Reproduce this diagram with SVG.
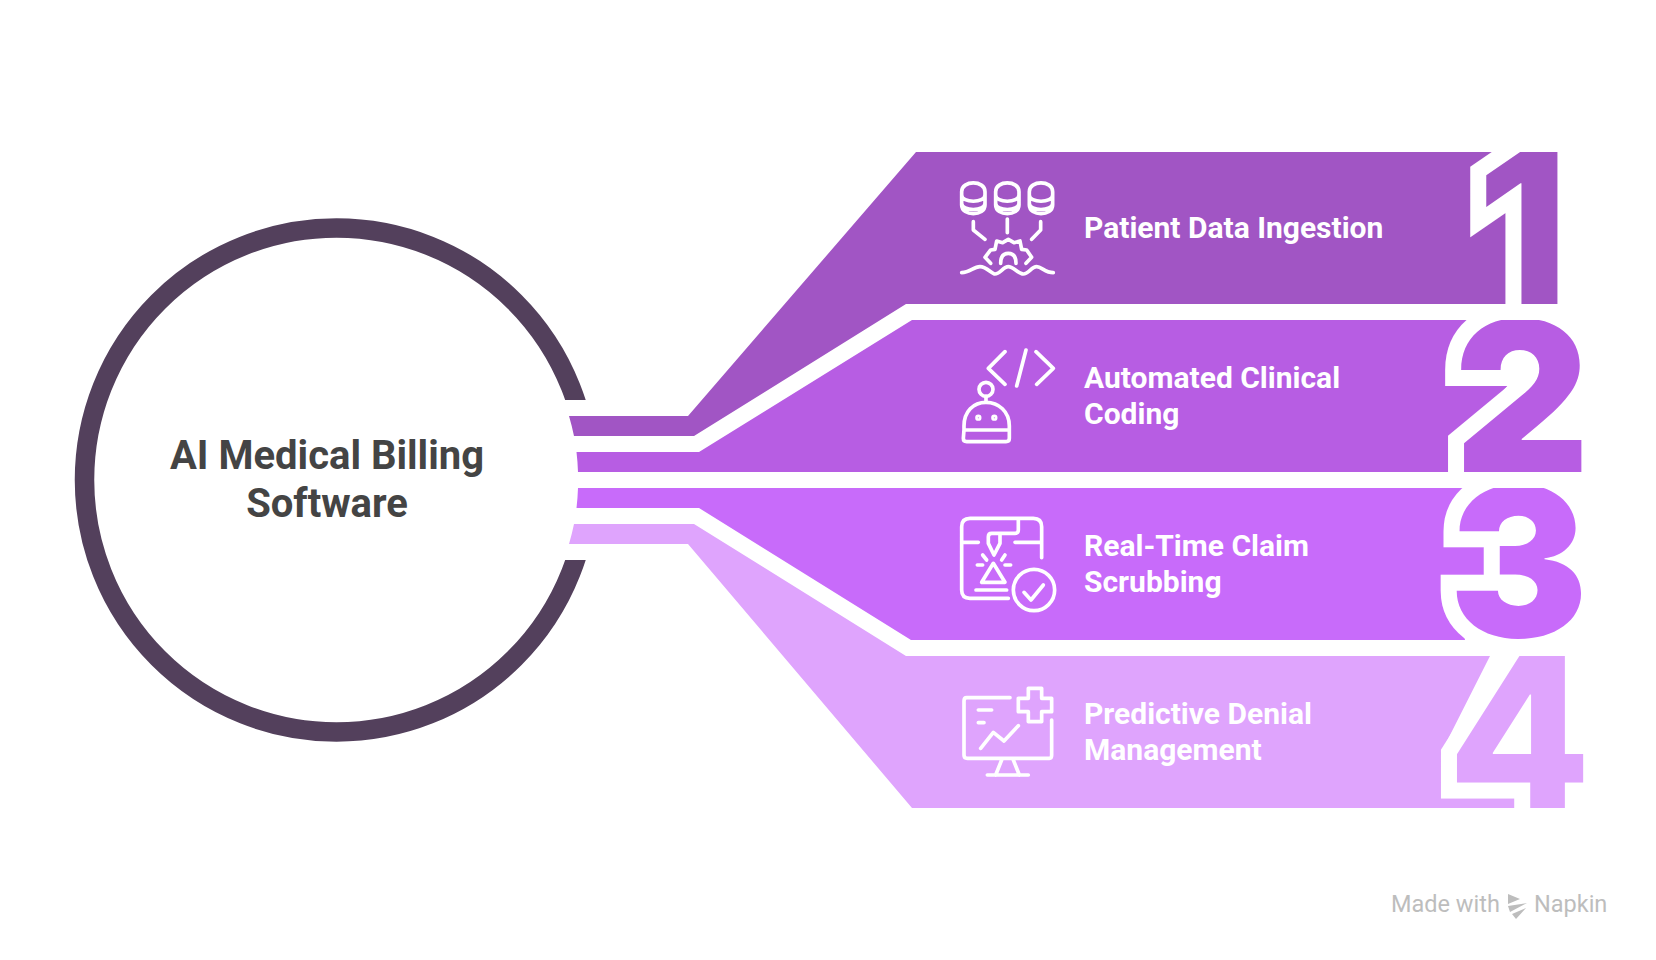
<svg xmlns="http://www.w3.org/2000/svg" width="1656" height="960" viewBox="0 0 1656 960">
<style>
.label{font-family:Roboto,"Liberation Sans",sans-serif;font-weight:700;font-size:30px;fill:#fff}
.title{font-family:Roboto,"Liberation Sans",sans-serif;font-weight:700;font-size:40px;fill:#444;text-anchor:middle}
.num{font-family:Inter,Roboto,"Liberation Sans",sans-serif;font-weight:800;font-size:209px;stroke:#fff;stroke-width:32px;paint-order:stroke;stroke-linejoin:miter;stroke-miterlimit:8}
.ic{fill:none;stroke:#fff;stroke-width:11;stroke-linecap:round;stroke-linejoin:round}
.wm{font-family:Roboto,"Liberation Sans",sans-serif;font-size:23.500px;fill:#bdbdbd}
</style>
<defs>
<clipPath id="c1"><rect x="1400" y="152" width="200" height="152"/></clipPath>
<clipPath id="c2"><rect x="1400" y="320" width="200" height="152"/></clipPath>
<clipPath id="c3"><rect x="1400" y="488" width="200" height="152"/></clipPath>
<clipPath id="c4"><rect x="1400" y="656" width="200" height="152"/></clipPath>
<clipPath id="ringcut"><path d="M0,0H1000V400H0ZM0,560H1000V960H0ZM0,400H400V560H0Z"/></clipPath>
</defs>
<rect width="1656" height="960" fill="#fff"/>
<g id="center">
<circle cx="336.500" cy="480" r="252" fill="none" stroke="#53405c" stroke-width="19.500" clip-path="url(#ringcut)"/>
<text class="title" x="327" y="469">AI Medical Billing</text>
<text class="title" x="327" y="517">Software</text>
</g>
<g id="connectors"></g>
<g id="step1">
<path d="M569,416L688,416L916,152H1559V304H906L694,436H574A243,243 0 0 0 569,416Z" fill="#a155c4"/>
<text class="num" x="1477" y="304" fill="#a155c4" clip-path="url(#c1)">1</text>
<g class="ic" transform="translate(950 170) scale(.3333)">
<path d="M35,65C35,30 105,30 105,65V105C105,140 35,140 35,105ZM35,75C35,100 105,100 105,75M35,100C35,125 105,125 105,100"/>
<path d="M137,65C137,30 207,30 207,65V105C207,140 137,140 137,105ZM137,75C137,100 207,100 207,75M137,100C137,125 207,125 207,100"/>
<path d="M238,65C238,30 308,30 308,65V105C308,140 238,140 238,105ZM238,75C238,100 308,100 308,75M238,100C238,125 308,125 308,100"/>
<path d="M70,155V180L105,208M172,147V188M272,155V180L245,208"/>
<path d="M122,280L105,262L122,240L135,238L140,213L158,218L175,208L192,218L210,213L215,238L230,240L245,262L228,280M152,280Q152,250 175,250Q198,250 198,280"/>
<path d="M35,308C60,308 70,290 90,290C110,290 125,312 135,312C150,312 160,290 175,290C190,290 205,312 220,312C235,312 245,290 260,290C275,290 285,308 310,308"/>
</g>
<text class="label" x="1084" y="238">Patient Data Ingestion</text>
</g>
<g id="step2">
<path d="M576.500,452H699L912,320H1475L1455,383H1510L1455,445V472H578A243,243 0 0 0 576.500,452Z" fill="#b75de3"/>
<text class="num" x="1454" y="473" fill="#b75de3" clip-path="url(#c2)" style="font-size:210px;font-weight:900">2</text>
<g class="ic" transform="translate(950 340) scale(.3333)">
<path d="M165,35L115,85L165,133M228,30L200,138M258,35L310,85L260,133"/>
<circle cx="108" cy="148" r="21"/>
<path d="M108,169V187M42,270V258C42,215 70,187 108,187C146,187 178,215 178,258V295Q178,305 168,305H50Q40,305 40,295ZM42,270H178"/>
<circle cx="85" cy="233" r="4"/><circle cx="133" cy="233" r="4"/>
</g>
<text class="label" x="1084" y="388">Automated Clinical</text>
<text class="label" x="1084" y="424">Coding</text>
</g>
<g id="step3">
<path d="M578,488H1470L1460,546H1485V580H1455L1465,640H911L699,508H576.500A243,243 0 0 0 578,488Z" fill="#c86bfa"/>
<text class="num" x="1449" y="637" fill="#c86bfa" clip-path="url(#c3)" style="font-size:208px;font-weight:900">3</text>
<g class="ic" transform="translate(950 505) scale(.3333)">
<path d="M275,158V65Q275,40 250,40H60Q35,40 35,65V255Q35,280 60,280H175M205,40V75Q205,85 195,85H125Q115,85 115,95V115L132,150L150,115V85M35,112H85M195,112H275"/>
<path d="M130,175L95,232H165ZM98,150L110,165M165,150L155,165M82,180H98M165,180H182M78,255H170"/>
<circle cx="252" cy="255" r="62"/>
<path d="M222,262L243,285L280,240"/>
</g>
<text class="label" x="1084" y="556">Real-Time Claim</text>
<text class="label" x="1084" y="592">Scrubbing</text>
</g>
<g id="step4">
<path d="M569,544H688L912,808H1516V796H1445V745L1490,656H906L694,524H574A243,243 0 0 1 569,544Z" fill="#dfa4fd"/>
<text class="num" x="1447.500" y="808" fill="#dfa4fd" clip-path="url(#c4)">4</text>
<g class="ic" transform="translate(950 675) scale(.3333)">
<path d="M180,68H50Q42,68 42,78V240Q42,250 52,250H298Q305,250 305,240V135M155,255L137,300M190,255L208,300M112,300H235M85,105H125M85,143H102M92,220L130,172L162,198L205,152"/>
<path d="M235,40H275V70H305V110H275V140H235V110H205V70H235Z"/>
</g>
<text class="label" x="1084" y="724">Predictive Denial</text>
<text class="label" x="1084" y="760">Management</text>
</g>
<g id="watermark">
<text class="wm" x="1391" y="912">Made with</text>
<path d="M1508,894L1520,899L1508,904ZM1508,906L1527,903L1510,912ZM1512,914L1526,908L1516,919Z" fill="#bdbdbd"/>
<text class="wm" x="1534" y="912">Napkin</text>
</g>
</svg>
